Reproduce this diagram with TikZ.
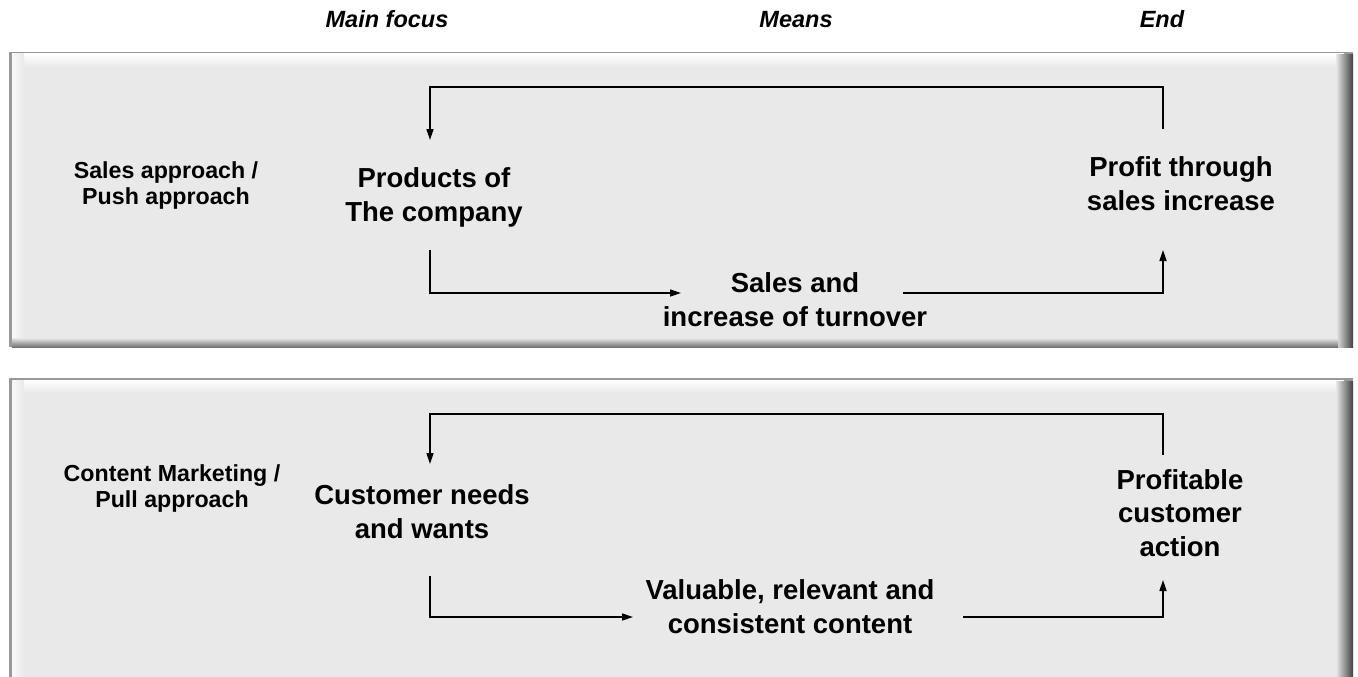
\documentclass[tikz,border=0pt]{standalone}
\usepackage{fontspec}
\setmainfont{Liberation Sans}
\usetikzlibrary{arrows.meta}
\definecolor{panel}{RGB}{233,233,233}
\tikzset{
  head/.style={font=\bfseries\itshape\fontsize{23.5}{27}\selectfont, anchor=base, inner sep=0},
  side/.style={font=\bfseries\fontsize{23.2}{26.5}\selectfont, align=center, inner sep=0},
  main/.style={font=\bfseries\fontsize{27.5}{33.5}\selectfont, align=center, inner sep=0},
  link/.style={line width=1.6pt, line join=miter},
  arr/.style={link, -{Triangle[length=11pt,width=7pt]}},
}
\newcommand{\bevelpanel}[2]{%
  \fill[black!40] (9,#1) rectangle (1353,#2);
  \fill[panel] (12,#1+2) rectangle (1344,#2-5);
  \shade[top color=white, bottom color=panel] (12,#1+2) rectangle (1344,#1+15);
  \shade[left color=white!70!panel, right color=panel] (12,#1+2) rectangle (24,#2-5);
  \shade[left color=panel, right color=black!75] (1336,#1+3) rectangle (1353,#2);
  \shade[top color=panel, bottom color=black!55] (12,#2-9) rectangle (1338,#2);
}
\begin{document}
\begin{tikzpicture}[x=1pt,y=-1pt]
\useasboundingbox (0,0) rectangle (1358,677);
\fill[white] (0,0) rectangle (1358,677);

\bevelpanel{52}{347}
\bevelpanel{378}{700}

% headers
\node[head] (hmain) at (387,28) {Main focus};
\node[head] (hmeans) at (796,28) {Means};
\node[head] (hend) at (1162,28) {End};

% top panel
\node[side] (push) at (166,186) {\strut Sales approach /\\\strut Push approach};
\node[main] (prod) at (434,198) {\strut Products of\\\strut The company};
\node[main] (profit) at (1181,187) {\strut Profit through\\\strut sales increase};
\node[main] (sales) at (795,303) {\strut Sales and\\\strut increase of turnover};

\coordinate (t1) at (1163,129);
\coordinate (t2) at (430,140);
\coordinate (b1) at (430,250);
\coordinate (b2) at (681,293);
\coordinate (b3) at (903,293);
\coordinate (b4) at (1163,250);
\draw[arr] (t1) |- (430,87) -- (t2);
\draw[arr] (b1) |- (b2);
\draw[arr] (b3) -| (b4);

% bottom panel
\node[side] (pull) at (172,489) {\strut Content Marketing /\\\strut Pull approach};
\node[main] (needs) at (422,515) {\strut Customer needs\\\strut and wants};
\node[main] (action) at (1180,516) {\strut Profitable\\\strut customer\\\strut action};
\node[main] (content) at (790,610) {\strut Valuable, relevant and\\\strut consistent content};

\coordinate (u1) at (1163,455);
\coordinate (u2) at (430,464);
\coordinate (v1) at (430,576);
\coordinate (v2) at (633,617);
\coordinate (v3) at (963,617);
\coordinate (v4) at (1163,580);
\draw[arr] (u1) |- (430,414) -- (u2);
\draw[arr] (v1) |- (v2);
\draw[arr] (v3) -| (v4);
\end{tikzpicture}
\end{document}
